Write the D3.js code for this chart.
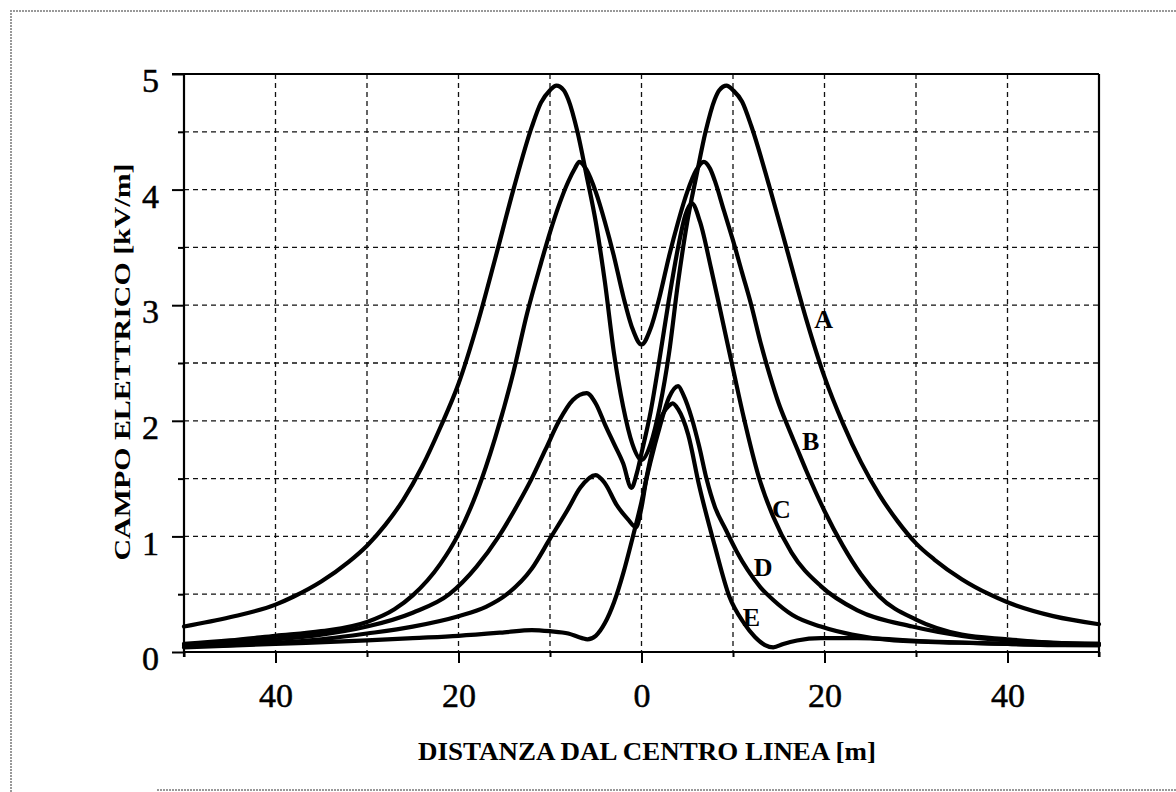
<!DOCTYPE html>
<html>
  <head>
    <meta charset="utf-8">
    <title>Campo elettrico</title>
    <script src="https://d3js.org/d3.v7.min.js"></script>
    <style>
      body { margin: 0; background: #fff; }
      svg { display: block; }
      .grid line { stroke: #111; stroke-width: 1.3; stroke-dasharray: 5,4; }
      .curve { fill: none; stroke: #000; stroke-width: 4.2; stroke-linejoin: round; stroke-linecap: round; }
      .frame { stroke: #000; stroke-width: 2.2; }
      .tick line { stroke: #000; stroke-width: 2; }
      text { font-family: "Liberation Serif", "Times New Roman", serif; fill: #000; }
    </style>
  </head>
  <body>
    <div id="chart"></div>
    <script>
      // distance from line centre [m] / field [kV/m]
      const xA = [-50,-45,-40,-38,-35,-32,-30,-28,-26,-24,-22,-20,-18,-16,-14,-12,-11,-10,-9.3,-8.5,-8,-7,-6,-5,-4,-3,-2,-1,0,1,2,3,4,5,6,7,8,8.5,9.3,10,11,12,14,16,18,20,22,24,26,28,30,32,35,38,40,45,50];
      const yA = [0.22,0.3,0.41,0.48,0.61,0.78,0.92,1.1,1.32,1.6,1.94,2.32,2.82,3.4,4.0,4.54,4.75,4.86,4.9,4.86,4.78,4.5,4.12,3.72,3.2,2.58,2.12,1.8,1.66,1.8,2.12,2.58,3.2,3.72,4.12,4.5,4.78,4.86,4.9,4.86,4.76,4.55,4.02,3.45,2.88,2.38,1.98,1.64,1.36,1.13,0.94,0.8,0.63,0.5,0.43,0.31,0.24];
      const xB = [-50,-45,-40,-35,-30,-27,-25,-22,-20,-18,-16,-14,-12.5,-11,-10,-9,-8,-7.3,-6.8,-6,-5,-4,-3,-2,-1,0,1,2,3,4,5,6,6.8,7.5,8,9,10,11,12,13,14,15,16,17,18,20,22,24,26,30,35,40,45,50];
      const yB = [0.07,0.1,0.14,0.18,0.26,0.37,0.49,0.76,1.02,1.38,1.85,2.42,2.93,3.36,3.63,3.87,4.07,4.18,4.24,4.17,3.98,3.72,3.42,3.08,2.8,2.66,2.8,3.08,3.42,3.72,3.98,4.17,4.24,4.18,4.08,3.82,3.56,3.28,3.0,2.68,2.4,2.15,1.95,1.76,1.57,1.22,0.92,0.67,0.48,0.28,0.15,0.11,0.08,0.07];
      const xC = [-50,-45,-40,-35,-30,-25,-21,-18,-15.6,-13.5,-12,-10.5,-9,-7.5,-6,-5,-4,-3,-2,-1.1,-0.5,0,1,2,3,4,4.8,5.5,6.4,7.6,8.9,10,11.2,12.8,14.4,16.4,19.6,23.6,29.6,35,40,45,50];
      const yC = [0.06,0.08,0.11,0.15,0.22,0.34,0.5,0.74,1.0,1.28,1.5,1.75,2.0,2.18,2.24,2.15,1.97,1.8,1.63,1.42,1.55,1.72,2.08,2.55,3.05,3.5,3.78,3.88,3.72,3.32,2.85,2.45,2.02,1.52,1.17,0.86,0.57,0.36,0.22,0.14,0.1,0.08,0.07];
      const xD = [-50,-45,-40,-35,-30,-25,-20,-17,-14.7,-12,-10,-8,-6.7,-5,-4,-2.7,-1.5,-0.6,0,0.5,1,2,3,4,4.6,5.5,6.3,7.1,8,9.2,10.4,11.6,13,14.4,16.5,19.6,23,27.6,35,40,45,50];
      const yD = [0.05,0.06,0.08,0.11,0.16,0.22,0.31,0.39,0.5,0.72,0.98,1.24,1.42,1.53,1.46,1.27,1.15,1.08,1.25,1.48,1.65,1.95,2.2,2.3,2.22,2.02,1.78,1.5,1.26,1.06,0.87,0.71,0.56,0.45,0.32,0.22,0.15,0.1,0.08,0.07,0.06,0.06];
      const xE = [-50,-40,-30,-25,-20,-15,-12,-10,-8,-6.5,-5.9,-5,-4,-3,-2,-1,0,1,2,3,3.4,4,5.1,6.3,8,9.6,11.2,12.4,13.5,14.4,15.5,17,19.6,23.6,31.6,40,50];
      const yE = [0.04,0.07,0.1,0.12,0.14,0.17,0.19,0.18,0.16,0.12,0.11,0.14,0.25,0.43,0.68,0.98,1.3,1.68,2.0,2.13,2.15,2.1,1.88,1.44,0.92,0.48,0.25,0.13,0.06,0.04,0.07,0.1,0.12,0.12,0.09,0.07,0.06];

      // curve labels and where they sit
      const names = ["A", "B", "C", "D", "E"];
      const labelX = [19.9, 18.5, 15.3, 13.3, 12.0];
      const labelY = [2.88, 1.83, 1.24, 0.74, 0.3];

      // ticks
      const xMajor = [-40, -20, 0, 20, 40];
      const xMinor = [-50, -30, -10, 10, 30, 50];
      const xGrid = [-40, -30, -20, -10, 0, 10, 20, 30, 40];
      const yMajor = [0, 1, 2, 3, 4, 5];
      const yMinor = [0.5, 1.5, 2.5, 3.5, 4.5];
      const yGrid = [0.5, 1, 1.5, 2, 2.5, 3, 3.5, 4, 4.5];

      const width = 1176, height = 792;
      const svg = d3.select("#chart").append("svg")
        .attr("width", width)
        .attr("height", height);

      const x = d3.scaleLinear().domain([-50, 50]).range([184, 1099]);
      const y = d3.scaleLinear().domain([0, 5]).range([652, 74]);

      // scanned page border
      svg.append("path")
        .attr("d", "M1176,11H11V792")
        .attr("fill", "none").attr("stroke", "#999")
        .attr("stroke-width", 2).attr("stroke-dasharray", "2,1");
      svg.append("line")
        .attr("x1", 157).attr("x2", 1176).attr("y1", 790).attr("y2", 790)
        .attr("stroke", "#999").attr("stroke-width", 2).attr("stroke-dasharray", "2,1");

      // grid
      const grid = svg.append("g").attr("class", "grid");
      grid.selectAll(".gx").data(xGrid).enter().append("line")
        .attr("x1", d => x(d)).attr("x2", d => x(d))
        .attr("y1", y(5)).attr("y2", y(0));
      grid.selectAll(".gy").data(yGrid).enter().append("line")
        .attr("x1", x(-50)).attr("x2", x(50))
        .attr("y1", d => y(d)).attr("y2", d => y(d));

      // axes
      const fmt = d => Math.abs(d);
      svg.append("g")
        .attr("transform", "translate(0," + y(0) + ")")
        .call(d3.axisBottom(x).tickValues(xMajor).tickSize(11).tickPadding(20).tickFormat(fmt))
        .call(g => g.select(".domain").remove())
        .call(g => g.selectAll("text").attr("font-size", 34).attr("font-family", null)
          .attr("stroke", "#000").attr("stroke-width", 0.5));
      svg.append("g")
        .attr("transform", "translate(0," + y(0) + ")")
        .call(d3.axisBottom(x).tickValues(xMinor).tickSize(5).tickFormat(""))
        .call(g => g.select(".domain").remove());
      svg.append("g")
        .attr("transform", "translate(" + x(-50) + ",0)")
        .call(d3.axisLeft(y).tickValues(yMajor).tickSize(12).tickPadding(13).tickFormat(d3.format("d")))
        .call(g => g.select(".domain").remove())
        .call(g => g.selectAll("text").attr("font-size", 34).attr("font-family", null).attr("dy", "0.52em")
          .attr("stroke", "#000").attr("stroke-width", 0.5));
      svg.append("g")
        .attr("transform", "translate(" + x(-50) + ",0)")
        .call(d3.axisLeft(y).tickValues(yMinor).tickSize(6).tickFormat(""))
        .call(g => g.select(".domain").remove());

      // frame
      const frame = svg.append("g").attr("class", "frame");
      frame.append("line").attr("x1", x(-50)).attr("x2", x(-50)).attr("y1", y(5)).attr("y2", y(0) + 5);
      frame.append("line").attr("x1", x(-50)).attr("x2", x(50)).attr("y1", y(0)).attr("y2", y(0));
      frame.append("line").attr("x1", x(-50) - 12).attr("x2", x(50)).attr("y1", y(5)).attr("y2", y(5));
      frame.append("line").attr("x1", x(50)).attr("x2", x(50)).attr("y1", y(5)).attr("y2", y(0) + 5);

      // curves
      const series = [[xA, yA], [xB, yB], [xC, yC], [xD, yD], [xE, yE]];
      const line = d3.line()
        .x(d => x(d[0]))
        .y(d => y(d[1]))
        .curve(d3.curveMonotoneX);
      svg.append("g").selectAll("path")
        .data(series).enter().append("path")
          .attr("class", "curve")
          .attr("d", s => line(d3.zip(s[0], s[1])));

      // curve labels
      svg.append("g").selectAll("text")
        .data(names).enter().append("text")
          .attr("x", (d, i) => x(labelX[i]))
          .attr("y", (d, i) => y(labelY[i]))
          .attr("dy", "0.35em")
          .attr("text-anchor", "middle")
          .attr("font-size", 26)
          .attr("font-weight", "bold")
          .text(d => d);

      // axis titles
      svg.append("text")
        .attr("x", 647).attr("y", 760)
        .attr("text-anchor", "middle")
        .attr("font-size", 26)
        .attr("font-weight", "bold")
        .attr("textLength", 458)
        .attr("lengthAdjust", "spacingAndGlyphs")
        .text("DISTANZA DAL CENTRO LINEA [m]");
      svg.append("text")
        .attr("transform", "translate(130,362) rotate(-90)")
        .attr("text-anchor", "middle")
        .attr("font-size", 24)
        .attr("font-weight", "bold")
        .attr("textLength", 397)
        .attr("lengthAdjust", "spacingAndGlyphs")
        .text("CAMPO ELETTRICO [kV/m]");
    </script>
  </body>
</html>
